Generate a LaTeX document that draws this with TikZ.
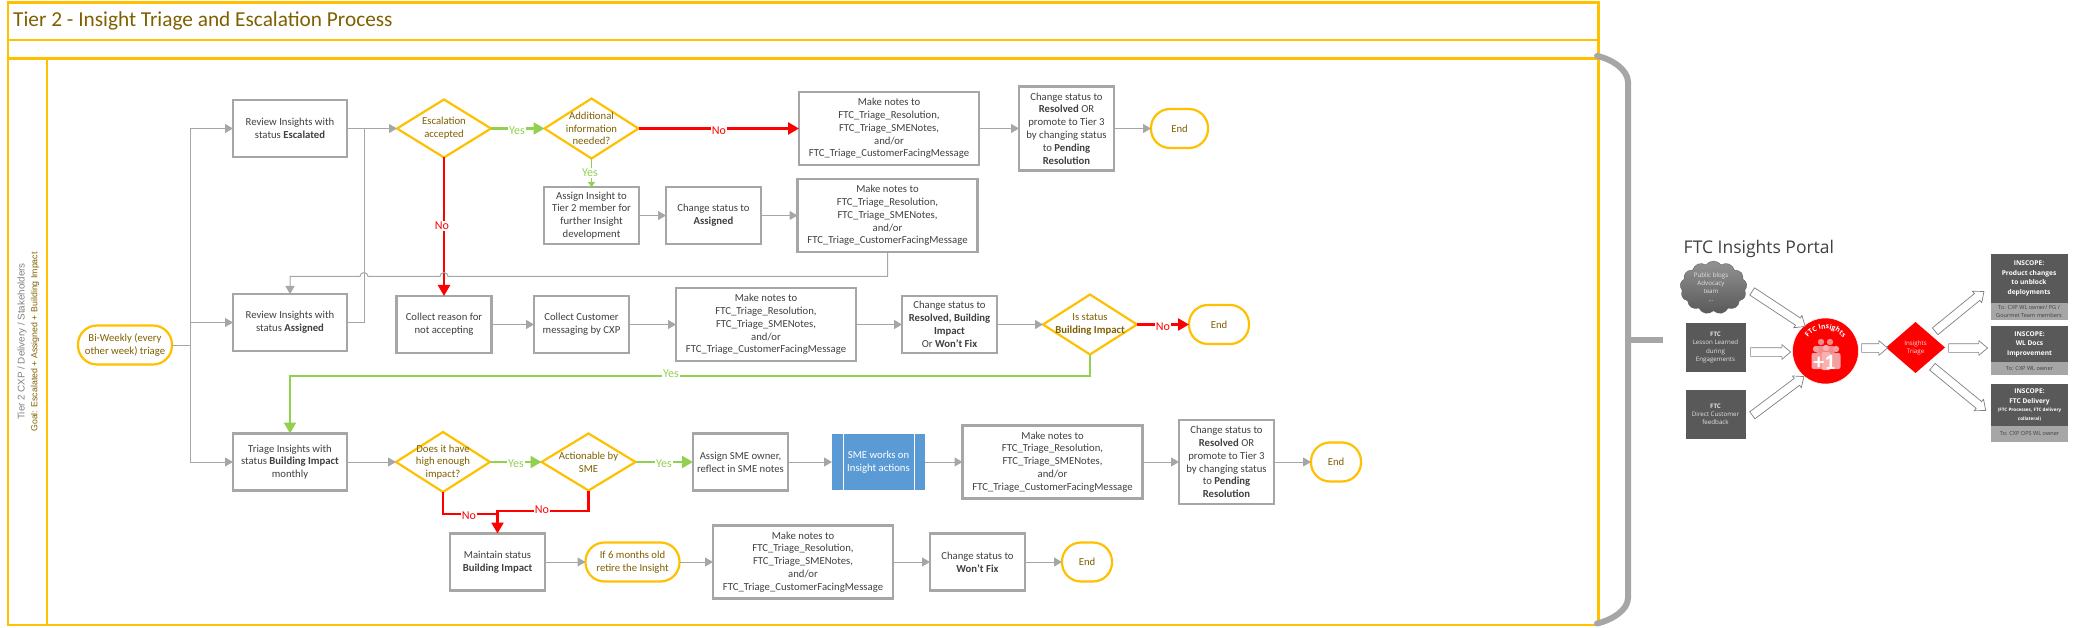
\documentclass[tikz,border=0pt]{standalone}
\usepackage{fontspec}
\setmainfont{Carlito}
\newfontfamily\portalfont{Open Sans}
\newfontfamily\lanefont{Liberation Sans}
\usetikzlibrary{arrows.meta,shapes.geometric,shapes.symbols,shapes.arrows,decorations.text,calc}
\definecolor{ygold}{HTML}{FFC000}
\definecolor{bgray}{HTML}{A6A6A6}
\definecolor{txtgray}{HTML}{404040}
\definecolor{brownt}{HTML}{7F6000}
\definecolor{yesgreen}{HTML}{92D050}
\definecolor{nored}{HTML}{FF0000}
\definecolor{smeblue}{HTML}{5B9BD5}
\definecolor{darkbox}{HTML}{595959}
\definecolor{lightbox}{HTML}{A6A6A6}
\definecolor{softw}{HTML}{E4E4E4}
\definecolor{pinka}{HTML}{F28B8B}
\definecolor{pinkb}{HTML}{F8B0B0}
\definecolor{pinkc}{HTML}{F4A0A0}
\tikzset{
  base/.style={inner sep=0pt,outer sep=0pt,align=center,font=\fontsize{10.7}{12.8}\selectfont},
  procbox/.style={base,rectangle,draw=bgray,line width=2.2pt,text=txtgray,fill=white},
  notesbox/.style={procbox,minimum width=180pt,minimum height=73pt},
  stdbox/.style={procbox,minimum width=95pt,minimum height=57pt},
  term/.style={base,rectangle,rounded corners=19pt,draw=ygold,line width=2.2pt,text=brownt,fill=white,minimum height=39pt},
  dia/.style={base,diamond,aspect=1.6,draw=ygold,line width=2.2pt,fill=white},
  dtext/.style={base,text=brownt},
  flow/.style={draw=bgray,line width=1pt,-{Triangle[length=8pt,width=9pt]}},
  plain/.style={draw=bgray,line width=1pt},
  gflow/.style={draw=yesgreen,line width=2.2pt,-{Triangle[length=11pt,width=12pt]}},
  gplain/.style={draw=yesgreen,line width=2.2pt},
  rflow/.style={draw=nored,line width=2.4pt,-{Triangle[length=11pt,width=12pt]}},
  rplain/.style={draw=nored,line width=2.4pt},
  yeslab/.style={inner sep=1pt,fill=white,text=yesgreen,font=\fontsize{12}{12}\selectfont},
  nolab/.style={inner sep=1pt,fill=white,text=nored,font=\fontsize{12}{12}\selectfont},
  frame/.style={draw=ygold,line width=2.4pt},
  bracket/.style={draw=bgray,line width=6pt,line cap=round},
  pbox/.style={inner sep=0pt,outer sep=0pt,align=center,fill=darkbox,text=softw,minimum width=60pt,
    font=\portalfont\fontsize{6.2}{8.2}\selectfont},
  phead/.style={inner sep=0pt,outer sep=0pt,align=center,fill=darkbox,text=white,minimum width=77pt,
    font=\portalfont\bfseries\fontsize{6.6}{9.4}\selectfont},
  pfoot/.style={inner sep=0pt,outer sep=0pt,align=center,fill=lightbox,text=txtgray,minimum width=77pt,
    font=\portalfont\fontsize{5.6}{7.6}\selectfont},
  blockarrow/.style={single arrow,draw=gray,fill=white,line width=.7pt,inner xsep=0pt,inner ysep=4pt,outer sep=0pt,
    minimum width=14pt,single arrow head extend=3pt,single arrow tip angle=80},
  person/.style={fill=#1,draw=none},
}
\begin{document}
\begin{tikzpicture}[x=1pt,y=-1pt]
\useasboundingbox (0,0) rectangle (2077,628);
% frames
\draw[frame] (8,2.5) rectangle (1598.5,40);
\draw[frame] (8,40) rectangle (1598.5,58.5);
\draw[frame] (8,58.5) rectangle (1598.5,625);
\draw[frame] (47,58.5) -- (47,625);
\node[anchor=west,inner sep=0pt,text=brownt,font=\fontsize{21.3}{21}\selectfont] (title) at (13,21) {Tier 2 - Insight Triage and Escalation Process};
\node[rotate=90,inner sep=0pt,text=gray,font=\lanefont\fontsize{9.8}{10}\selectfont] (lane1) at (22,341.5) {Tier 2 CXP / Delivery / Stakeholders};
\node[rotate=90,inner sep=0pt,text=brownt,font=\lanefont\fontsize{8.8}{10}\selectfont] (lane2) at (35,342) {Goal: Escalated + Assigned + Building Impact};
% bracket
\draw[bracket] (1597,56) .. controls (1612,59) and (1628,70) .. (1628,82) -- (1628,598) .. controls (1628,610) and (1612,620) .. (1597,623.5);
\draw[bracket,line cap=butt] (1631,340) -- (1663,340);

% row 1
\node[stdbox,minimum width=114pt] (rev1) at (290,128.5) {Review Insights with\\status \textbf{Escalated}};
\node[dia,minimum width=94pt,minimum height=58pt,label={[dtext]center:Escalation\\accepted}] (esc) at (444,128.5) {};
\node[dia,minimum width=94pt,minimum height=60pt,label={[dtext]center:Additional\\information\\needed?}] (add) at (591.5,128.5) {};
\node[notesbox] (n1) at (889,128.5) {Make notes to\\FTC\_Triage\_Resolution,\\FTC\_Triage\_SMENotes,\\and/or\\FTC\_Triage\_CustomerFacingMessage};
\node[stdbox,minimum height=84pt] (c1) at (1066.5,128.5) {Change status to\\\textbf{Resolved} OR\\promote to Tier 3\\by changing status\\to \textbf{Pending}\\\textbf{Resolution}};
\node[term,minimum width=57pt] (e1) at (1179.5,128.5) {End};
% row 1b
\node[stdbox] (as1) at (591.5,215.5) {Assign Insight to\\Tier 2 member for\\further Insight\\development};
\node[stdbox] (cas) at (713.5,215.5) {Change status to\\\textbf{Assigned}};
\node[notesbox] (n2) at (887.5,215.5) {Make notes to\\FTC\_Triage\_Resolution,\\FTC\_Triage\_SMENotes,\\and/or\\FTC\_Triage\_CustomerFacingMessage};
% row 2
\node[stdbox,minimum width=114pt] (rev2) at (290,322.5) {Review Insights with\\status \textbf{Assigned}};
\node[term,minimum width=94pt] (start) at (125,345) {Bi-Weekly (every\\other week) triage};
\node[stdbox] (cr) at (444,324.5) {Collect reason for\\not accepting};
\node[stdbox] (cc) at (581.5,324.5) {Collect Customer\\messaging by CXP};
\node[notesbox] (n3) at (766,324.5) {Make notes to\\FTC\_Triage\_Resolution,\\FTC\_Triage\_SMENotes,\\and/or\\FTC\_Triage\_CustomerFacingMessage};
\node[stdbox] (c3) at (949.5,324.5) {Change status to\\\textbf{Resolved, Building}\\\textbf{Impact}\\Or \textbf{Won't Fix}};
\node[dia,minimum width=94pt,minimum height=60pt,label={[dtext]center:Is status\\\textbf{Building Impact}}] (is) at (1090,324.5) {};
\node[term,minimum width=60pt] (e2) at (1219,324.5) {End};
% row 3
\node[stdbox,minimum width=114pt] (tri) at (290,462) {Triage Insights with\\status \textbf{Building Impact}\\monthly};
\node[dia,minimum width=94pt,minimum height=60pt,label={[dtext]center:Does it have\\high enough\\impact?}] (high) at (443,462) {};
\node[dia,minimum width=94pt,minimum height=57pt,label={[dtext]center:Actionable by\\SME}] (act) at (588.5,462) {};
\node[stdbox] (asm) at (740.5,462) {Assign SME owner,\\reflect in SME notes};
\node[base,rectangle,fill=smeblue,text=white,minimum width=93pt,minimum height=56pt] (sme) at (878.5,462) {SME works on\\Insight actions};
\node[notesbox] (n4) at (1052.5,462) {Make notes to\\FTC\_Triage\_Resolution,\\FTC\_Triage\_SMENotes,\\and/or\\FTC\_Triage\_CustomerFacingMessage};
\node[stdbox,minimum height=84pt] (c4) at (1226.5,462) {Change status to\\\textbf{Resolved} OR\\promote to Tier 3\\by changing status\\to \textbf{Pending}\\\textbf{Resolution}};
\node[term,minimum width=50pt] (e4) at (1336,462) {End};
% row 4
\node[stdbox] (mt) at (497.5,562) {Maintain status\\\textbf{Building Impact}};
\node[term,minimum width=94pt] (six) at (632.5,562) {If 6 months old\\retire the Insight};
\node[notesbox] (n5) at (803,562) {Make notes to\\FTC\_Triage\_Resolution,\\FTC\_Triage\_SMENotes,\\and/or\\FTC\_Triage\_CustomerFacingMessage};
\node[stdbox] (c5) at (977.5,562) {Change status to\\\textbf{Won't Fix}};
\node[term,minimum width=50pt] (e5) at (1087,562) {End};

\draw[white,line width=.8pt] ([xshift=11pt]sme.north west) -- ([xshift=11pt]sme.south west);
\draw[white,line width=.8pt] ([xshift=-11pt]sme.north east) -- ([xshift=-11pt]sme.south east);

% routing points
\coordinate (bus) at (190.5,345);
\coordinate (j1) at (364,128.5);
\coordinate (h1) at (448,276.5);
\coordinate (h3) at (368,276.5);
\coordinate (over) at (290,276.5);
\coordinate (yt) at (290,376);
\coordinate (m1) at (497.5,514);
\coordinate (m2) at (497.5,511);

% grey flows
\draw[plain] (start.east) -- (bus);
\draw[flow] (bus) |- (rev1.west);
\draw[flow] (bus) |- (rev2.west);
\draw[flow] (bus) |- (tri.west);
\draw[flow] (rev1.east) -- (esc.west);
\draw[plain] (rev2.east) -| (j1);
\draw[flow] (n1) -- (c1);
\draw[flow] (c1) -- (e1);
\draw[flow] (as1) -- (cas);
\draw[flow] (cas) -- (n2);
\draw[flow] (cr) -- (cc);
\draw[flow] (cc) -- (n3);
\draw[flow] (n3) -- (c3);
\draw[flow] (c3) -- (is.west);
\draw[flow] (tri) -- (high.west);
\draw[flow] (asm) -- (sme);
\draw[flow] (sme) -- (n4);
\draw[flow] (n4) -- (c4);
\draw[flow] (c4) -- (e4);
\draw[flow] (mt) -- (six);
\draw[flow] (six) -- (n5);
\draw[flow] (n5) -- (c5);
\draw[flow] (c5) -- (e5);

% red
\draw[rflow] (esc.south) -- (cr.north);
\node[nolab] (no1) at (442,226) {No};
\draw[rflow] (add.east) -- (n1.west);
\node[nolab] (no2) at (719,131) {No};
\draw[rflow] (is.east) -- (e2.west);
\node[nolab] (no3) at (1163,327) {No};
\draw[rplain] (high.south) |- (m1);
\draw[rflow] (act.south) |- (m2) -- (mt.north);
\node[nolab] (no4) at (469,516) {No};
\node[nolab] (no5) at (542,510) {No};

% green
\draw[gflow] (esc.east) -- (add.west);
\node[yeslab] (y1) at (517,131) {Yes};
\draw[draw=yesgreen,line width=1.6pt,-{Triangle[length=5pt,width=7pt]}] (add.south) -- (as1.north);
\node[yeslab] (y2) at (590,173) {Yes};
\draw[gflow] (is.south) |- (yt) -- (tri.north);
\node[yeslab] (y3) at (671,374) {Yes};
\draw[gflow] (high.east) -- (act.west);
\node[yeslab] (y4) at (516,464) {Yes};
\draw[gflow] (act.east) -- (asm.west);
\node[yeslab] (y5) at (664,464) {Yes};

% over-hop line
\draw[flow] (n2.south) |- (h1) arc[start angle=0,end angle=180,radius=4pt] -- (h3) arc[start angle=0,end angle=180,radius=4pt] -- (over) -- (rev2.north);

% portal
\node[anchor=west,inner sep=0pt,text=txtgray,font=\portalfont\fontsize{17.5}{18}\selectfont] (ptitle) at (1683.5,249) {FTC Insights Portal};
\node[cloud,cloud puffs=13,cloud puff arc=110,aspect=1.3,inner sep=0pt,minimum width=67pt,minimum height=53pt,
  top color=gray!85,bottom color=darkbox,draw=darkbox,line width=.3pt] (cloud) at (1713.5,287.5) {};
\node[inner sep=0pt,align=center,text=softw,font=\portalfont\fontsize{6.2}{8.2}\selectfont] (cloudt) at (1711,287) {Public blogs\\Advocacy\\team\\...};
\node[pbox,minimum height=49pt] (f1) at (1715.5,347.5) {\textbf{FTC}\\Lesson Learned\\during\\Engagements};
\node[pbox,minimum height=49pt] (f2) at (1715.5,414) {\textbf{FTC}\\Direct Customer\\feedback};
\node[circle,fill=nored,draw=white,line width=.5pt,minimum size=66pt,inner sep=0pt] (hub) at (1825.5,351) {};
\node[diamond,fill=nored,inner sep=0pt,outer sep=0pt,minimum width=59pt,minimum height=51pt] (tri2) at (1915.5,347.5) {};
\node[inner sep=0pt,align=center,text=softw,font=\portalfont\fontsize{6.2}{7.8}\selectfont] (tri2t) at (1915.5,347.5) {Insights\\Triage};
% people
\foreach \cx/\cy/\hh/\cc in {1821/342/27/pinka,1830/342/27/pinka,1826/348/22/pinkb,1816/349/20/pinkc,1836/349/20/pinkc}{
  \fill[person=\cc] (\cx,\cy) circle[radius=3.2pt];
  \fill[person=\cc,rounded corners=2pt] (\cx-4.5,\cy+4) rectangle (\cx+4.5,\cy+\hh);
}
\node[inner sep=0pt,text=white,font=\bfseries\fontsize{22}{22}\selectfont] (plus) at (1824.5,362) {+1};
\path[decorate,decoration={text along path,text align=center,text={|\portalfont\bfseries\fontsize{6.8}{7}\selectfont\color{white}|FTC Insights}}]
  (1825.5,351) ++(160:22pt) arc[start angle=160,end angle=20,radius=22pt];

\node[phead,minimum height=49pt] (a1) at (2029,278.5) {INSCOPE:\\Product changes\\to unblock\\deployments};
\node[pfoot,minimum height=17pt] (a2) at (2029,311.5) {To: CXP WL owner/ PG /\\Gourmet Team members};
\node[phead,minimum height=36pt] (b1) at (2029.5,344) {INSCOPE:\\WL Docs\\Improvement};
\node[pfoot,minimum height=13pt] (b2) at (2029.5,368.5) {To: CXP WL owner};
\node[phead,minimum height=42pt,align=center] (c1x) at (2029.5,405) {INSCOPE:\\FTC Delivery\\[-1pt]{\fontsize{4.6}{6}\selectfont (FTC Processes, FTC delivery}\\[-1pt]{\fontsize{4.6}{6}\selectfont collateral)}};
\node[pfoot,minimum height=16pt] (c2x) at (2029.5,434) {To: CXP OPS WL owner};

\node[blockarrow,minimum height=63.5pt,rotate=-33.4] (ba1) at (1776.5,307.5) {};
\node[blockarrow,minimum height=40pt] (ba2) at (1768,352) {};
\node[blockarrow,minimum height=64.5pt,rotate=36.9] (ba3) at (1776,397.5) {};
\node[blockarrow,minimum height=26pt] (ba4) at (1872,348) {};
\node[blockarrow,minimum height=63pt,rotate=39.2] (ba5) at (1957.5,313) {};
\node[blockarrow,minimum height=39pt] (ba6) at (1965.5,348) {};
\node[blockarrow,minimum height=69pt,rotate=-39.4] (ba7) at (1957,387) {};
\end{tikzpicture}
\end{document}
